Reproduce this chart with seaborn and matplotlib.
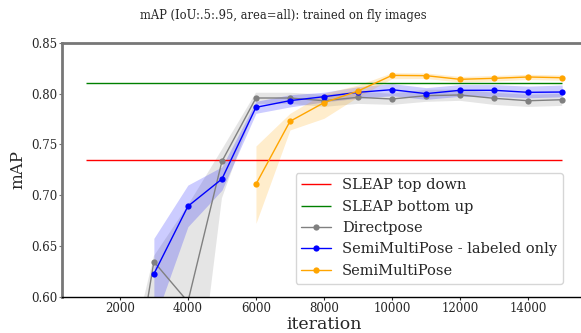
import numpy as np
import pandas as pd
import matplotlib
matplotlib.use("Agg")
import matplotlib.pyplot as plt
import seaborn as sns

# ---- data ----
sleap_top_down = 0.7345
sleap_bottom_up = 0.8103
hline_start, hline_end = 1000, 15000

dp_iter = [2000, 3000, 4000, 5000, 6000, 7000, 8000, 9000, 10000, 11000, 12000, 13000, 14000, 15000]
dp_mean = [0.430, 0.6345, 0.595, 0.7334, 0.7958, 0.7958, 0.7931, 0.7965, 0.7948, 0.7981, 0.7988, 0.7955, 0.7931, 0.7941]
dp_lo   = [0.380, 0.560, 0.426, 0.697, 0.790, 0.790, 0.787, 0.790, 0.789, 0.792, 0.793, 0.789, 0.787, 0.788]
dp_hi   = [0.500, 0.640, 0.690, 0.745, 0.801, 0.801, 0.799, 0.802, 0.800, 0.804, 0.804, 0.801, 0.799, 0.800]

smp_lab_iter = [3000, 4000, 5000, 6000, 7000, 8000, 9000, 10000, 11000, 12000, 13000, 14000, 15000]
smp_lab_mean = [0.6224, 0.6891, 0.7160, 0.7866, 0.7932, 0.7971, 0.8014, 0.8040, 0.8001, 0.8034, 0.8034, 0.8014, 0.8017]
smp_lab_lo   = [0.5746, 0.6690, 0.7050, 0.7807, 0.7870, 0.7920, 0.7955, 0.7980, 0.7945, 0.7975, 0.7975, 0.7960, 0.7970]
smp_lab_hi   = [0.6575, 0.7100, 0.7280, 0.7925, 0.7990, 0.8015, 0.8070, 0.8100, 0.8060, 0.8090, 0.8090, 0.8075, 0.8086]

smp_iter = [6000, 7000, 8000, 9000, 10000, 11000, 12000, 13000, 14000, 15000]
smp_mean = [0.7108, 0.7728, 0.7912, 0.8027, 0.8181, 0.8178, 0.8142, 0.8152, 0.8165, 0.8158]
smp_lo   = [0.6723, 0.7643, 0.7758, 0.7970, 0.8148, 0.8150, 0.8115, 0.8125, 0.8140, 0.8132]
smp_hi   = [0.7485, 0.7807, 0.8004, 0.8086, 0.8207, 0.8205, 0.8170, 0.8180, 0.8192, 0.8185]

x_ticks = [2000, 4000, 6000, 8000, 10000, 12000, 14000]
y_ticks = [0.60, 0.65, 0.70, 0.75, 0.80, 0.85]
title = "mAP (IoU:.5:.95, area=all): trained on fly images"

# ---- figure ----
sns.set_style("white")
plt.rcParams['font.family'] = ['DejaVu Serif']

W, H = 581, 333
fig = plt.figure(figsize=(W / 100, H / 100), dpi=100)
left, right, top, bottom = 62, 586, 43, 296.7
ax = fig.add_axes([left / W, 1 - bottom / H, (right - left) / W, (bottom - top) / H])

# bands
ax.fill_between(dp_iter, dp_lo, dp_hi, color="gray", alpha=0.2, linewidth=0)
ax.fill_between(smp_lab_iter, smp_lab_lo, smp_lab_hi, color="blue", alpha=0.2, linewidth=0)
ax.fill_between(smp_iter, smp_lo, smp_hi, color="orange", alpha=0.2, linewidth=0)

# reference lines
ax.hlines(sleap_top_down, hline_start, hline_end, color="red", linewidth=1, label="SLEAP top down")
ax.hlines(sleap_bottom_up, hline_start, hline_end, color="green", linewidth=1, label="SLEAP bottom up")

kw = dict(marker="o", markersize=4.5, markeredgewidth=0, linewidth=1, errorbar=None, ax=ax)
sns.lineplot(x=dp_iter, y=dp_mean, color="gray", label="Directpose", **kw)
sns.lineplot(x=smp_lab_iter, y=smp_lab_mean, color="blue", label="SemiMultiPose - labeled only", **kw)
sns.lineplot(x=smp_iter, y=smp_mean, color="orange", label="SemiMultiPose", **kw)

ax.set_xlim(300, 15700)
ax.set_ylim(0.60, 0.85)
ax.set_xticks(x_ticks)
ax.set_yticks(y_ticks)
ax.set_yticklabels([f"{v:.2f}" for v in y_ticks])
ax.tick_params(axis="both", labelsize=8.5, length=2, width=0.8, pad=1.5, direction="out")
ax.tick_params(axis="y", color="#777777")
ax.tick_params(left=True, bottom=True)

for s in ["top", "left", "right"]:
    ax.spines[s].set_color("#777777")
    ax.spines[s].set_linewidth(2)
ax.spines["bottom"].set_color("black")
ax.spines["bottom"].set_linewidth(1)

ax.set_xlabel("iteration", fontsize=12.5, labelpad=1)
ax.set_ylabel("mAP", fontsize=12, labelpad=3)

fig.text(283 / W, 1 - 15 / H, title, ha="center", va="center", fontsize=8.3)

ax.legend(loc="lower right", bbox_to_anchor=(563 / W, 1 - 283.5 / H), bbox_transform=fig.transFigure,
          fontsize=10.5, frameon=True, borderaxespad=0, handlelength=2.0, labelspacing=0.5,
          borderpad=0.4, fancybox=True)

fig.savefig("out.png", dpi=100)
